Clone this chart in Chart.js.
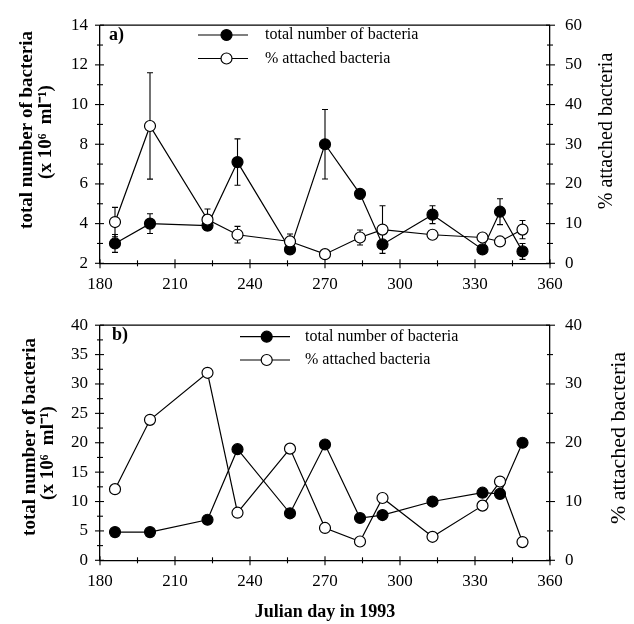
<!DOCTYPE html>
<html><head><meta charset="utf-8">
<script src="https://cdn.jsdelivr.net/npm/chart.js@4.4.0/dist/chart.umd.min.js"></script>
<style>
html,body{margin:0;padding:0;background:#fff;}
#wrap{position:relative;width:634px;height:624px;background:#fff;}
canvas{position:absolute;left:0;}
#ca{top:0;} #cb{top:300px;}
</style></head><body>
<div id="wrap"><canvas id="ca" width="634" height="300"></canvas><canvas id="cb" width="634" height="324"></canvas></div>
<script>
// ---- data ----
const days = [186, 200, 223, 235, 256, 270, 284, 293, 313, 333, 340, 349];
const totalA     = [3.0, 4.0, 3.9, 7.1, 2.7, 8.0, 5.5, 2.95, 4.45, 2.7, 4.6, 2.6];
const totalAErr  = [0.45, 0.5, 0.1, 1.17, 0.15, 1.75, 0.15, 0.2, 0.45, 0.1, 0.65, 0.4];
const attachedA    = [10.4, 34.6, 11.0, 7.2, 5.5, 2.3, 6.5, 8.5, 7.2, 6.5, 5.5, 8.5];
const attachedAErr = [3.7, 13.4, 2.7, 2.1, 1.9, 0, 1.9, 6.0, 0, 0, 0, 2.3];
const totalB    = [4.8, 4.8, 6.9, 18.9, 8.0, 19.7, 7.2, 7.7, 10.0, 11.5, 11.3, 20.0];
const attachedB = [12.1, 23.9, 31.9, 8.1, 19.0, 5.5, 3.2, 10.6, 4.0, 9.3, 13.4, 3.1];

const xTicks = [180, 210, 240, 270, 300, 330, 360];
const leftTicksA = [2, 4, 6, 8, 10, 12, 14];
const rightTicksA = [0, 10, 20, 30, 40, 50, 60];
const leftTicksB = [0, 5, 10, 15, 20, 25, 30, 35, 40];
const rightTicksB = [0, 10, 20, 30, 40];

const legendLabels = ['total number of bacteria', '% attached bacteria'];
const leftTitle = ['total number of bacteria', '(x 10\u2076  ml\u207B\u00B9)'];
const rightTitle = '% attached bacteria';
const xTitle = 'Julian day in 1993';

const SERIF = '"Liberation Serif", "Times New Roman", serif';

function pts(xs, ys) { return xs.map((x, i) => ({x: x, y: ys[i]})); }

function marker(ctx, x, y, filled) {
  ctx.beginPath();
  ctx.arc(x, y, 5.5, 0, Math.PI * 2);
  ctx.fillStyle = filled ? '#000' : '#fff';
  ctx.fill();
  ctx.lineWidth = 1.2;
  ctx.strokeStyle = '#000';
  ctx.stroke();
}

function rotText(ctx, text, x, y, font) {
  ctx.save();
  ctx.translate(x, y);
  ctx.rotate(-Math.PI / 2);
  ctx.font = font;
  ctx.fillStyle = '#000';
  ctx.textAlign = 'center';
  ctx.textBaseline = 'middle';
  ctx.fillText(text, 0, 0);
  ctx.restore();
}

const decor = {
  id: 'decor',
  beforeDatasetsDraw(chart, args, o) {
    const ctx = chart.ctx;
    const xs = chart.scales.x;
    (o.errors || []).forEach(e => {
      const ys = chart.scales[e.axis];
      ctx.save();
      ctx.strokeStyle = '#000';
      ctx.lineWidth = 1.1;
      e.values.forEach((v, i) => {
        const err = e.err[i];
        if (!err) return;
        const px = xs.getPixelForValue(days[i]);
        const top = ys.getPixelForValue(v + err), bot = ys.getPixelForValue(v - err);
        ctx.beginPath();
        ctx.moveTo(px, top); ctx.lineTo(px, bot);
        ctx.moveTo(px - 3, top); ctx.lineTo(px + 3, top);
        ctx.moveTo(px - 3, bot); ctx.lineTo(px + 3, bot);
        ctx.stroke();
      });
      ctx.restore();
    });
  },
  afterDraw(chart, args, o) {
    const ctx = chart.ctx;
    const a = chart.chartArea;
    ctx.save();
    ctx.strokeStyle = '#000';
    ctx.lineWidth = 1.3;
    // top frame line
    ctx.beginPath(); ctx.moveTo(a.left, a.top); ctx.lineTo(a.right, a.top); ctx.stroke();
    // ticks
    function tickSet(scale, minorStep, kind) {
      const majors = scale.ticks.map(t => t.value);
      const vals = [];
      for (let v = scale.min; v <= scale.max + 1e-9; v += minorStep) vals.push(+v.toFixed(4));
      ctx.lineWidth = 1.1;
      vals.forEach(v => {
        const major = majors.some(m => Math.abs(m - v) < 1e-6);
        const out = major ? 5 : 3, inn = major ? 4 : 3;
        const p = scale.getPixelForValue(v);
        ctx.beginPath();
        if (kind === 'x') { ctx.moveTo(p, a.bottom - inn); ctx.lineTo(p, a.bottom + out); }
        else if (kind === 'l') { ctx.moveTo(a.left - out, p); ctx.lineTo(a.left + inn, p); }
        else { ctx.moveTo(a.right - inn, p); ctx.lineTo(a.right + out, p); }
        ctx.stroke();
      });
    }
    tickSet(chart.scales.x, 15, 'x');
    tickSet(chart.scales.y, o.minorL, 'l');
    tickSet(chart.scales.y1, o.minorR, 'r');
    ctx.restore();

    // axis titles
    rotText(ctx, leftTitle[0], o.lt1[0], o.lt1[1], 'bold ' + o.ltSize + 'px ' + SERIF);
    rotText(ctx, leftTitle[1], o.lt2[0], o.lt2[1], 'bold ' + o.ltSize + 'px ' + SERIF);
    rotText(ctx, rightTitle, o.rt[0], o.rt[1], o.rtSize + 'px ' + SERIF);
    ctx.save();
    ctx.fillStyle = '#000';
    ctx.textBaseline = 'middle';
    if (o.xt) {
      ctx.font = 'bold 18px ' + SERIF;
      ctx.textAlign = 'center';
      ctx.fillText(xTitle, o.xt[0], o.xt[1]);
    }
    // panel label
    ctx.font = 'bold 18px ' + SERIF;
    ctx.textAlign = 'left';
    ctx.fillText(o.panel, o.panelPos[0], o.panelPos[1]);
    // legend
    const L = o.legend;
    ctx.font = '16px ' + SERIF;
    L.rows.forEach((ry, i) => {
      ctx.strokeStyle = '#000';
      ctx.lineWidth = 1.2;
      ctx.beginPath(); ctx.moveTo(L.x0, ry); ctx.lineTo(L.x1, ry); ctx.stroke();
      marker(ctx, L.mx, ry, i === 0);
      ctx.fillStyle = '#000';
      ctx.fillText(legendLabels[i], L.tx, ry);
    });
    ctx.restore();
  }
};

function makeChart(id, c) {
  const font = {family: SERIF, size: 17};
  const border = {display: true, color: '#000', width: 1.3};
  return new Chart(document.getElementById(id), {
    type: 'line',
    data: {datasets: [
      {data: pts(days, c.total), yAxisID: 'y', order: 1, borderColor: '#000', borderWidth: 1.2,
       pointRadius: 5.5, pointBackgroundColor: '#000', pointBorderColor: '#000', pointBorderWidth: 1.2,
       tension: 0, fill: false},
      {data: pts(days, c.att), yAxisID: 'y1', order: 0, borderColor: '#000', borderWidth: 1.2,
       pointRadius: 5.5, pointBackgroundColor: '#fff', pointBorderColor: '#000', pointBorderWidth: 1.2,
       tension: 0, fill: false}
    ]},
    options: {
      responsive: false, animation: false, devicePixelRatio: 1,
      layout: {padding: {top: c.top, left: 0, right: 0, bottom: 0}},
      plugins: {legend: {display: false}, tooltip: {enabled: false}, decor: c.decor},
      scales: {
        x: {type: 'linear', min: 180, max: 360,
            afterBuildTicks: s => { s.ticks = xTicks.map(v => ({value: v})); },
            afterFit: s => { s.height = c.xh; },
            grid: {display: false, drawTicks: false}, border: border,
            ticks: {font: font, color: '#000', padding: 11, maxRotation: 0, autoSkip: false}},
        y: {type: 'linear', position: 'left', min: c.lt[0], max: c.lt[c.lt.length - 1],
            afterBuildTicks: s => { s.ticks = c.lt.map(v => ({value: v})); },
            afterFit: s => { s.width = 100; },
            grid: {display: false, drawTicks: false}, border: border,
            ticks: {font: font, color: '#000', padding: 12, autoSkip: false}},
        y1: {type: 'linear', position: 'right', min: c.rt[0], max: c.rt[c.rt.length - 1],
            afterBuildTicks: s => { s.ticks = c.rt.map(v => ({value: v})); },
            afterFit: s => { s.width = 84; },
            grid: {display: false, drawTicks: false}, border: border,
            ticks: {font: font, color: '#000', padding: 15, autoSkip: false}}
      }
    },
    plugins: [decor]
  });
}

makeChart('ca', {
  total: totalA, att: attachedA, lt: leftTicksA, rt: rightTicksA, top: 20, xh: 36.7,
  decor: {
    errors: [{axis: 'y', values: totalA, err: totalAErr}, {axis: 'y1', values: attachedA, err: attachedAErr}],
    minorL: 1, minorR: 5,
    lt1: [27, 130], lt2: [46, 132], ltSize: 19, rt: [607, 131], rtSize: 20,
    panel: 'a)', panelPos: [109, 35],
    legend: {rows: [35, 58.5], x0: 198, x1: 248, mx: 226.5, tx: 265}
  }
});

makeChart('cb', {
  total: totalB, att: attachedB, lt: leftTicksB, rt: rightTicksB, top: 16.5, xh: 63.7,
  decor: {
    errors: [],
    minorL: 2.5, minorR: 5,
    lt1: [30, 137], lt2: [48, 153], ltSize: 19, rt: [619, 138], rtSize: 22,
    xt: [325, 312],
    panel: 'b)', panelPos: [112, 35],
    legend: {rows: [36.7, 60], x0: 240, x1: 290, mx: 266.7, tx: 305}
  }
});
</script>
</body></html>
